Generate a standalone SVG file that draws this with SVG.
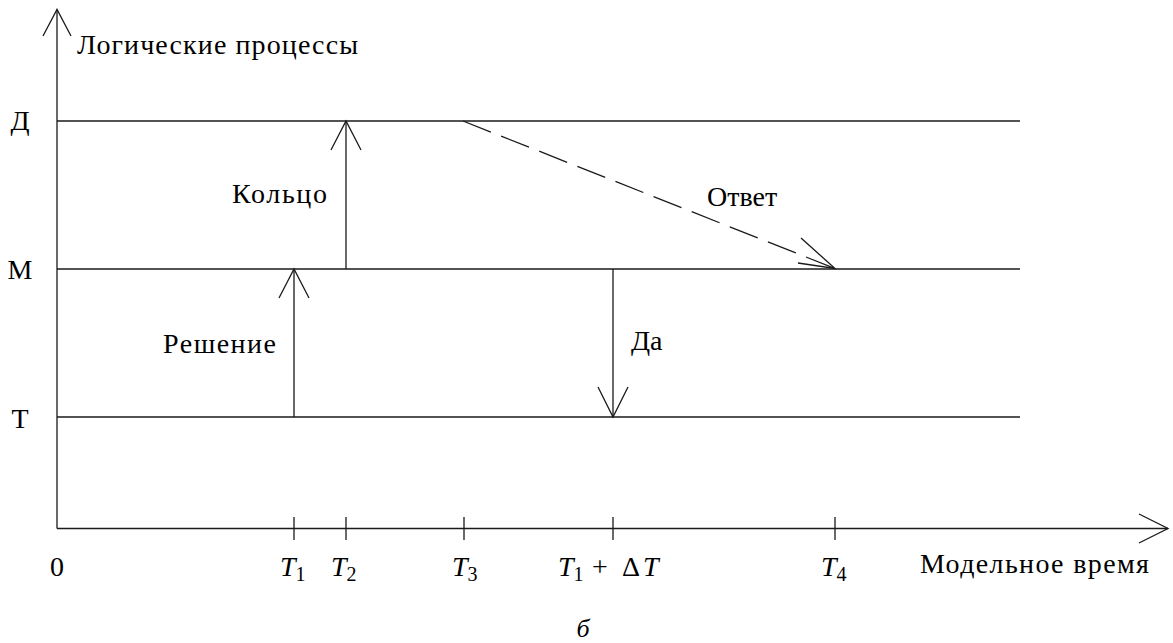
<svg xmlns="http://www.w3.org/2000/svg" width="1173" height="643" viewBox="0 0 1173 643">
<rect width="1173" height="643" fill="#fff"/>
<text x="77" y="54" font-family="Times New Roman" font-size="28" textLength="281">Логические процессы</text>
<text x="920" y="573" font-family="Times New Roman" font-size="28" textLength="229">Модельное время</text>
<text x="57" y="576" font-family="Times New Roman" font-size="28" text-anchor="middle">0</text>
<text x="280" y="576" font-family="Times New Roman" font-size="28"><tspan font-style="italic">T</tspan><tspan font-size="20" dy="5">1</tspan></text>
<text x="331" y="576" font-family="Times New Roman" font-size="28"><tspan font-style="italic">T</tspan><tspan font-size="20" dy="5">2</tspan></text>
<text x="452" y="576" font-family="Times New Roman" font-size="28"><tspan font-style="italic">T</tspan><tspan font-size="20" dy="5">3</tspan></text>
<text x="558" y="576" font-family="Times New Roman" font-size="28"><tspan font-style="italic">T</tspan><tspan font-size="20" dy="5">1</tspan><tspan x="592" dy="-5">+</tspan><tspan x="622">Δ</tspan><tspan font-style="italic" x="643">T</tspan></text>
<text x="821" y="576" font-family="Times New Roman" font-size="28"><tspan font-style="italic">T</tspan><tspan font-size="20" dy="5">4</tspan></text>
<text x="583" y="637" font-family="Times New Roman" font-size="26" font-style="italic" text-anchor="middle">б</text>

<g id="axes" stroke="#1a1a1a" stroke-width="1.3" fill="none">
  <line x1="57" y1="528.5" x2="57" y2="9.5"/>
  <polyline points="43,36 57,9.5 71,36"/>
  <line x1="57" y1="528.5" x2="1168" y2="528.5"/>
  <polyline points="1139,514 1168,528.5 1139,543"/>
  <line x1="294" y1="517" x2="294" y2="540"/>
  <line x1="346" y1="517" x2="346" y2="540"/>
  <line x1="464" y1="517" x2="464" y2="540"/>
  <line x1="613" y1="517" x2="613" y2="540"/>
  <line x1="835" y1="517" x2="835" y2="540"/>
</g>

<g id="lane-D">
  <line x1="57" y1="121" x2="1020" y2="121" stroke="#1a1a1a" stroke-width="1.3"/>
  <text x="20" y="130" font-family="Times New Roman" font-size="28" text-anchor="middle">Д</text>
</g>
<g id="lane-M">
  <line x1="57" y1="269" x2="1020" y2="269" stroke="#1a1a1a" stroke-width="1.3"/>
  <text x="20" y="279" font-family="Times New Roman" font-size="28" text-anchor="middle">М</text>
</g>
<g id="lane-T">
  <line x1="57" y1="417" x2="1020" y2="417" stroke="#1a1a1a" stroke-width="1.3"/>
  <text x="20" y="428" font-family="Times New Roman" font-size="28" text-anchor="middle">Т</text>
</g>

<g id="connectors" stroke="#1a1a1a" stroke-width="1.3" fill="none">
  <line x1="294" y1="417" x2="294" y2="269"/>
  <polyline points="279,298 294,269 309,298"/>
  <line x1="346" y1="269" x2="346" y2="121"/>
  <polyline points="331,150 346,121 361,150"/>
  <line x1="613" y1="269" x2="613" y2="417"/>
  <polyline points="598,387 613,417 628,387"/>
  <line x1="463" y1="121" x2="835" y2="268.5" stroke-dasharray="30 11"/>
  <polyline points="801,238 835,268.5 798,263"/>
</g>
<text x="163" y="353" font-family="Times New Roman" font-size="28" textLength="113">Решение</text>
<text x="232" y="203" font-family="Times New Roman" font-size="28" textLength="95">Кольцо</text>
<text x="631" y="350" font-family="Times New Roman" font-size="28">Да</text>
<text x="707" y="206" font-family="Times New Roman" font-size="28">Ответ</text>
</svg>
